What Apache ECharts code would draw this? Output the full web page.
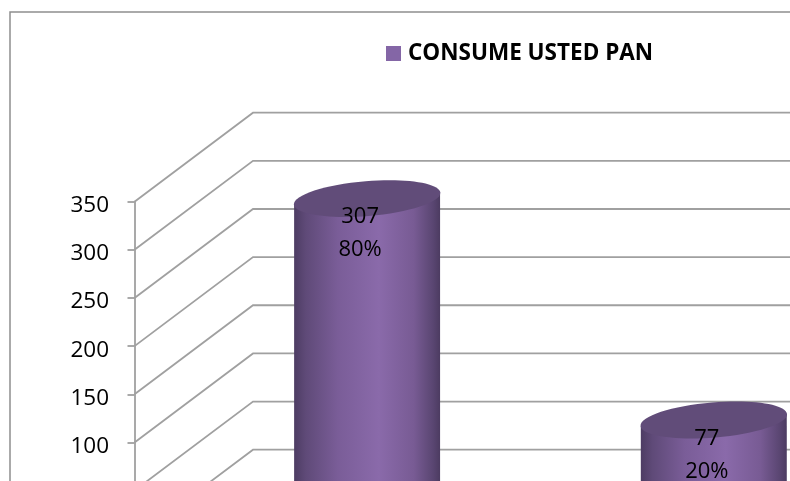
<!DOCTYPE html>
<html>
<head>
<meta charset="utf-8">
<style>html,body{margin:0;padding:0;background:#fff;overflow:hidden}#chart{width:790px;height:481px}</style>
<script src="https://cdn.jsdelivr.net/npm/echarts@6/dist/echarts.min.js"></script>
</head>
<body>
<div id="chart"></div>
<script>
// Survey answers, drawn as cylinders standing on a pseudo-3D floor
const seriesName = 'CONSUME USTED PAN';
const categories = ['SI', 'NO'];
const counts = [307, 77];
const shares = ['80%', '20%'];
const yTicks = [0, 50, 100, 150, 200, 250, 300, 350];

// Depth of the fake 3D box, in pixels
const depthX = 118.5;
const depthY = -89;
const font = '"Open Sans", sans-serif';
const wallColor = '#a0a0a0';

const chart = echarts.init(document.getElementById('chart'), null, { renderer: 'canvas' });

// Oblique floor-to-wall lines and the horizontal lines of the back wall
function renderWall(params, api) {
  const p = api.coord([0, api.value(0)]);
  const grid = params.coordSys;
  const y = p[1];
  const x0 = grid.x;
  return {
    type: 'polyline',
    silent: true,
    shape: { points: [[x0, y], [x0 + depthX, y + depthY], [grid.x + grid.width, y + depthY]] },
    style: { fill: 'none', stroke: wallColor, lineWidth: 1.8 }
  };
}

// One cylinder: shaded body, tilted top ellipse and its two-line label
function renderCylinder(params, api) {
  const top = api.coord([api.value(0), api.value(1)]);
  const base = api.coord([api.value(0), 0]);
  const band = api.size([1, 0])[0];
  const halfW = band * 0.421 / 2;
  const cx = top[0] + depthX / 2;
  const cy = top[1] + depthY / 2;
  const tilt = 6;
  const baseY = base[1] + depthY / 2;
  const i = params.dataIndex;
  return {
    type: 'group',
    children: [
      {
        type: 'polygon',
        shape: { points: [[cx - halfW, cy + tilt], [cx + halfW, cy - tilt], [cx + halfW, baseY], [cx - halfW, baseY]] },
        style: {
          fill: new echarts.graphic.LinearGradient(0, 0, 1, 0, [
            { offset: 0, color: '#4d3c63' },
            { offset: 0.08, color: '#5f4a78' },
            { offset: 0.3, color: '#7a5d98' },
            { offset: 0.58, color: '#8a6aaa' },
            { offset: 0.82, color: '#785b94' },
            { offset: 0.95, color: '#5a4672' },
            { offset: 1, color: '#4c3b61' }
          ])
        }
      },
      {
        type: 'ellipse',
        x: cx,
        y: cy,
        rotation: Math.atan2(2 * tilt, 2 * halfW),
        shape: { cx: 0, cy: 0, rx: halfW + 0.5, ry: 17.5 },
        style: { fill: '#614c79' }
      },
      {
        type: 'text',
        x: cx - 7,
        y: cy + 35,
        style: {
          text: counts[i] + '\n' + shares[i],
          font: '22px ' + font,
          fill: '#000',
          align: 'center',
          verticalAlign: 'middle',
          lineHeight: 33
        }
      }
    ]
  };
}

chart.setOption({
  animation: false,
  backgroundColor: '#fff',
  graphic: [{
    type: 'rect',
    silent: true,
    z: -10,
    shape: { x: 10, y: 12, width: 900, height: 600 },
    style: { fill: '#fff', stroke: '#8e8e8e', lineWidth: 1.5 }
  }],
  legend: {
    data: [seriesName],
    left: 381,
    top: 37,
    itemWidth: 15,
    itemHeight: 15,
    icon: 'rect',
    selectedMode: false,
    textStyle: { fontFamily: font, fontWeight: 'bold', fontSize: 22.5, color: '#000', padding: [0, 0, 0, 2] }
  },
  grid: { left: 134.5, top: 201.7, width: 693.4, height: 337, outerBoundsMode: 'none', containLabel: false },
  xAxis: {
    type: 'category',
    data: categories,
    axisLabel: { show: false },
    axisTick: { show: false },
    axisLine: { show: false }
  },
  yAxis: {
    type: 'value',
    min: 0,
    max: 350,
    interval: 50,
    splitLine: { show: false },
    axisLine: { show: true, lineStyle: { color: wallColor, width: 1.8 } },
    axisTick: { show: true, length: 7, lineStyle: { color: wallColor, width: 1.8 } },
    axisLabel: { fontFamily: font, fontSize: 22.5, color: '#000', margin: 25.5, verticalAlign: 'top', lineHeight: 8 }
  },
  series: [
    {
      type: 'custom',
      name: 'walls',
      coordinateSystem: 'cartesian2d',
      clip: false,
      z: 1,
      encode: { y: 0 },
      data: yTicks.map(v => [v]),
      renderItem: renderWall
    },
    {
      type: 'custom',
      name: seriesName,
      coordinateSystem: 'cartesian2d',
      clip: false,
      z: 2,
      itemStyle: { color: '#8466a6' },
      encode: { x: 0, y: 1 },
      data: categories.map((c, i) => [i, counts[i]]),
      renderItem: renderCylinder
    }
  ]
});
</script>
</body>
</html>
